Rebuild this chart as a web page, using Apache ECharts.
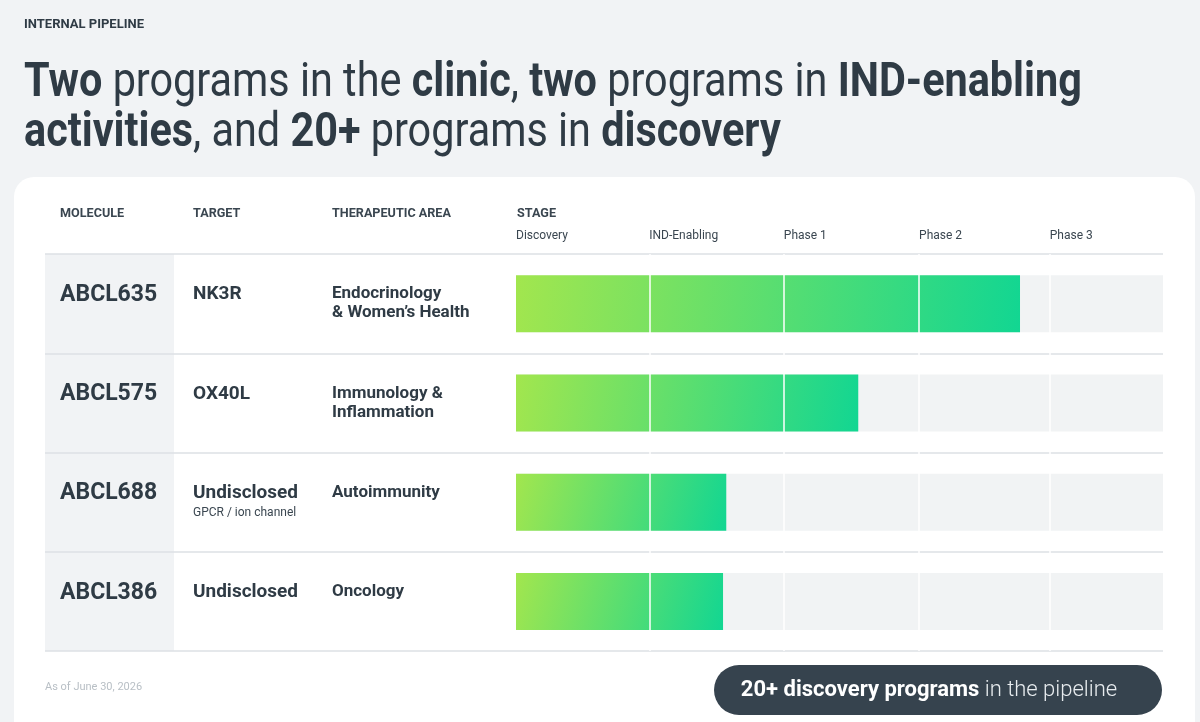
<!DOCTYPE html>
<html>
<head>
<meta charset="utf-8">
<script src="https://cdn.jsdelivr.net/npm/echarts@6/dist/echarts.min.js"></script>
<style>
  html, body { margin: 0; padding: 0; background: #f1f3f5; }
  #chart { width: 1200px; height: 722px; }
</style>
</head>
<body>
<div id="chart"></div>
<script>
// pipeline data
const molecules = ['ABCL635', 'ABCL575', 'ABCL688', 'ABCL386'];
const targets = ['NK3R', 'OX40L', 'Undisclosed', 'Undisclosed'];
const targetNotes = ['', '', 'GPCR / ion channel', ''];
const areas = ['Endocrinology\n& Women\u2019s Health', 'Immunology &\nInflammation', 'Autoimmunity', 'Oncology'];
const stageNames = ['Discovery', 'IND-Enabling', 'Phase 1', 'Phase 2', 'Phase 3'];
const stageStarts = [0, 20.6, 41.4, 62.3, 82.5];   // % of the stage track
const progress = [77.9, 52.9, 32.5, 32.0];         // % of the stage track

const SANS = "Roboto, 'Noto Sans', sans-serif";
const INK = '#2f3b45';
const SUB = '#3a4650';

const chart = echarts.init(document.getElementById('chart'));

const bare = { axisLine: { show: false }, axisTick: { show: false }, splitLine: { show: false } };
const tableGrid = (left, right) => ({ left, right, top: 254, bottom: 71, containLabel: false, outerBoundsMode: 'none' });

// condensed-looking text: no narrow font is installed, so squeeze Roboto horizontally
const squeezed = (x, y, text, font, fill, sx) => ({
  type: 'text', x, y, scaleX: sx,
  style: { x: 0, y: 0, text, verticalAlign: 'middle', font, fill }
});

chart.setOption({
  backgroundColor: '#f1f3f5',
  animation: false,
  grid: [
    tableGrid(516, 37),   // stage bars
    tableGrid(45, 37),    // row lines + molecule column
    tableGrid(193, 880),  // target column
    tableGrid(332, 700)   // therapeutic area column
  ],
  xAxis: [
    {
      type: 'value', gridIndex: 0, min: 0, max: 100, position: 'top', ...bare,
      axisLabel: {
        customValues: stageStarts,
        formatter: v => stageNames[stageStarts.indexOf(v)] || '',
        align: 'left', margin: 12, fontSize: 12, fontFamily: SANS, color: SUB
      }
    },
    { type: 'value', gridIndex: 1, show: false, min: 0, max: 1 },
    { type: 'value', gridIndex: 2, show: false, min: 0, max: 1 },
    { type: 'value', gridIndex: 3, show: false, min: 0, max: 1 }
  ],
  yAxis: [
    { type: 'category', gridIndex: 0, data: molecules, inverse: true, show: false },
    {
      // row separators spanning the table, molecule names
      type: 'category', gridIndex: 1, data: molecules, inverse: true, z: 5,
      axisLine: { show: false }, axisTick: { show: false },
      splitLine: { show: true, lineStyle: { color: '#dde1e5', width: 1.5 } },
      axisLabel: {
        inside: true, margin: 15,
        formatter: v => '{m|' + v + '}\n{s| }',
        rich: {
          m: { fontFamily: SANS, fontWeight: 'bold', fontSize: 23, color: INK, lineHeight: 26 },
          s: { fontSize: 10, lineHeight: 17 }
        }
      }
    },
    {
      type: 'category', gridIndex: 2, data: targets, inverse: true, ...bare,
      axisLabel: {
        inside: true, margin: 0,
        formatter: (v, i) => '{t|' + v + '}\n{s|' + (targetNotes[i] || ' ') + '}',
        rich: {
          t: { fontFamily: SANS, fontWeight: 'bold', fontSize: 19, color: INK, lineHeight: 22 },
          s: { fontFamily: SANS, fontSize: 12, color: SUB, lineHeight: 18 }
        }
      }
    },
    {
      type: 'category', gridIndex: 3, data: areas, inverse: true, ...bare,
      axisLabel: {
        inside: true, margin: 0,
        formatter: v => (v.indexOf('\n') < 0 ? v + '\n ' : v),
        fontFamily: SANS, fontWeight: 'bold', fontSize: 17, color: INK, lineHeight: 19
      }
    }
  ],
  series: [
    {
      type: 'bar', xAxisIndex: 0, yAxisIndex: 0, data: progress, barWidth: 57,
      showBackground: true,
      backgroundStyle: { color: '#f1f3f4' },
      itemStyle: {
        color: new echarts.graphic.LinearGradient(0, 0, 1, 1, [
          { offset: 0, color: '#a2e64e' },
          { offset: 1, color: '#12d692' }
        ])
      },
      silent: true,
      markLine: {
        silent: true, symbol: ['none', 'none'], label: { show: false },
        lineStyle: { color: '#ffffff', width: 1.5, type: 'solid', opacity: 1 },
        emphasis: { disabled: true },
        data: stageStarts.slice(1).map(v => ({ xAxis: v }))
      }
    }
  ],
  graphic: [
    // card
    { type: 'rect', z: -10, shape: { x: 14, y: 177, width: 1181, height: 600, r: 20 }, style: { fill: '#ffffff' } },
    // molecule column shading
    { type: 'rect', z: -5, shape: { x: 45, y: 254, width: 129, height: 397 }, style: { fill: '#f1f3f5' } },
    squeezed(24, 25, 'INTERNAL PIPELINE', 'bold 13px ' + SANS, INK, 1),
    {
      type: 'text', x: 24, y: 109, scaleX: 0.862,
      style: {
        x: 0, y: 0, verticalAlign: 'middle',
        text: '{b|Two}{r| programs in the }{b|clinic}{r|, }{b|two}{r| programs in }{b|IND-enabling}\n' +
              '{b|activities}{r|, and }{b|20+}{r| programs in }{b|discovery}',
        rich: {
          b: { font: 'bold 48px ' + SANS, fill: INK, lineHeight: 50 },
          r: { font: 'normal 48px ' + SANS, fill: INK, lineHeight: 50 }
        }
      }
    },
    // header row
    squeezed(60, 214, 'MOLECULE', 'bold 13px ' + SANS, SUB, 0.97),
    squeezed(193, 214, 'TARGET', 'bold 13px ' + SANS, SUB, 0.97),
    squeezed(332, 214, 'THERAPEUTIC AREA', 'bold 13px ' + SANS, SUB, 0.97),
    squeezed(517, 214, 'STAGE', 'bold 13px ' + SANS, SUB, 0.97),
    // footer
    { type: 'text', style: { x: 45, y: 687, text: 'As of June 30, 2026', verticalAlign: 'middle', font: '11px ' + SANS, fill: '#b8bfc5' } },
    { type: 'rect', shape: { x: 714, y: 665, width: 448, height: 50, r: 25 }, style: { fill: '#36434e' } },
    {
      type: 'text',
      style: {
        x: 929, y: 690, align: 'center', verticalAlign: 'middle',
        text: '{b|20+ discovery programs}{l| in the pipeline}',
        rich: {
          b: { font: 'bold 22px ' + SANS, fill: '#ffffff' },
          l: { font: '300 22px ' + SANS, fill: '#e8ecef' }
        }
      }
    }
  ]
});
</script>
</body>
</html>
